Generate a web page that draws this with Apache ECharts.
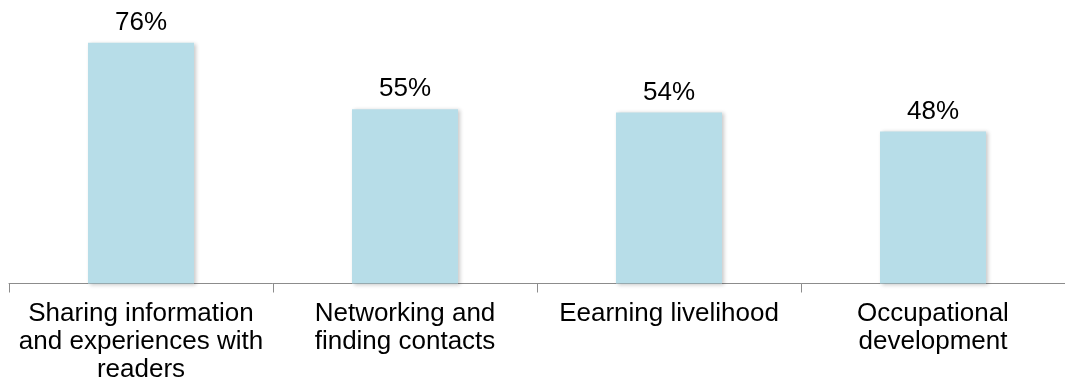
<!DOCTYPE html>
<html>
<head>
<meta charset="utf-8">
<style>
  html, body { margin: 0; padding: 0; background: #ffffff; }
  #chart { width: 1065px; height: 387px; }
</style>
<script src="https://cdn.jsdelivr.net/npm/echarts@6/dist/echarts.min.js"></script>
</head>
<body>
<div id="chart"></div>
<script>
// Reasons for blogging, share of respondents (%)
const categories = [
  'Sharing information\nand experiences with\nreaders',
  'Networking and\nfinding contacts',
  'Eearning livelihood',
  'Occupational\ndevelopment'
];
const values = [76, 55, 54, 48];

const chart = echarts.init(document.getElementById('chart'));
chart.setOption({
  animation: false,
  grid: { left: 9, top: 30, width: 1060, height: 253.5, containLabel: false },
  xAxis: {
    type: 'category',
    data: categories,
    boundaryGap: true,
    axisLine: { show: true, lineStyle: { color: '#8c8c8c', width: 1 } },
    axisTick: { show: true, alignWithLabel: false, length: 9, lineStyle: { color: '#8c8c8c', width: 1 } },
    axisLabel: {
      interval: 0,
      margin: 16,
      color: '#000000',
      fontFamily: 'Liberation Sans, Arial, sans-serif',
      fontSize: 26,
      lineHeight: 28,
      align: 'center'
    }
  },
  yAxis: {
    type: 'value',
    min: 0,
    max: 80,
    show: false,
    splitLine: { show: false }
  },
  series: [{
    type: 'bar',
    data: values,
    barWidth: 106,
    itemStyle: {
      color: '#b7dde8',
      shadowColor: 'rgba(0,0,0,0.22)',
      shadowBlur: 4,
      shadowOffsetX: 2,
      shadowOffsetY: 1
    },
    label: {
      show: true,
      position: 'top',
      distance: 7,
      formatter: '{c}%',
      color: '#000000',
      fontFamily: 'Liberation Sans, Arial, sans-serif',
      fontSize: 26
    }
  }]
});
</script>
</body>
</html>
